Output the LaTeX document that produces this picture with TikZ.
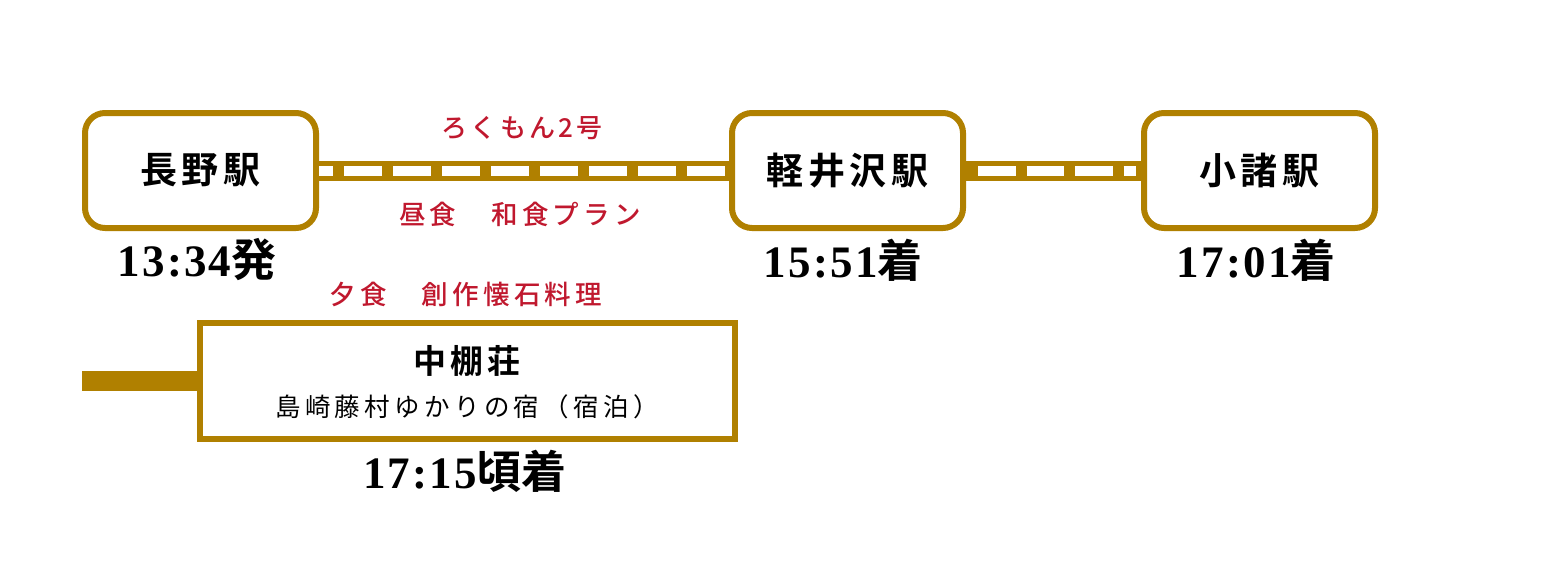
\documentclass[tikz,border=0pt]{standalone}
\usepackage{fontspec}
\setmainfont[LetterSpace=5]{Liberation Serif}
\newfontfamily\jpst[LetterSpace=12,BoldFont={Noto Sans CJK JP Bold}]{Noto Sans CJK JP}
\newfontfamily\jpred[LetterSpace=12]{Noto Sans CJK JP Medium}
\newfontfamily\jpredw[LetterSpace=16]{Noto Sans CJK JP Medium}
\newfontfamily\jpsub[LetterSpace=17]{Noto Sans CJK JP}
\newfontfamily\jptime[BoldFont={Noto Sans CJK JP Bold}]{Noto Sans CJK JP}
\definecolor{gold}{RGB}{176,128,0}
\definecolor{rouge}{RGB}{192,24,46}
\newcommand{\tm}[2]{{\bfseries #1}{\jptime\bfseries #2}}
\tikzset{
  stationbox/.style={draw=gold, line width=6pt, rounded corners=20pt, fill=white,
    minimum width=231pt, minimum height=115pt, inner sep=0pt,
    font=\jpst\bfseries\fontsize{37}{40}\selectfont, text=black},
  innbox/.style={draw=gold, line width=6pt, fill=white, minimum width=535pt,
    minimum height=116pt, inner sep=0pt},
  timelabel/.style={font=\fontsize{45}{50}\selectfont, text=black, inner sep=0pt},
  redlabel/.style={font=\jpred\fontsize{26}{30}\selectfont, text=rouge, inner sep=0pt},
  redwide/.style={font=\jpredw\fontsize{26.5}{30}\selectfont, text=rouge, inner sep=0pt},
  trackbase/.style={draw=gold, line width=20pt},
  trackdash/.style={draw=white, line width=10pt},
}
\begin{document}
\begin{tikzpicture}[x=1pt,y=-1pt]
\useasboundingbox[fill=white] (0,0) rectangle (1560,584);
% stations
\node[stationbox] (nagano) at (200.5,170.5) {長野駅};
\node[stationbox] (karu) at (847.5,170.5) {軽井沢駅};
\node[stationbox] (komoro) at (1259.5,170.5) {小諸駅};
% tracks
\draw[trackbase] (nagano.east) -- (karu.west);
\draw[trackdash, dash pattern=on 38pt off 11pt, dash phase=24pt] (nagano.east) -- (karu.west);
\draw[trackbase] (karu.east) -- (komoro.west);
\draw[trackdash, dash pattern=on 37.5pt off 11pt, dash phase=37.5pt, shorten <=1pt, shorten >=5pt] (karu.east) -- (komoro.west);
% times
\node[timelabel] (t1) at (197,260) {\tm{13:34}{発}};
\node[timelabel] (t2) at (843,260) {\tm{15:51}{着}};
\node[timelabel] (t3) at (1256,260) {\tm{17:01}{着}};
% red labels
\node[redlabel] (train) at (522,128) {ろくもん2号};
\node[redwide] (lunch) at (520,214) {昼食　和食プラン};
\node[redwide] (dinner) at (466,294) {夕食　創作懐石料理};
% inn
\coordinate (stub) at (82,381);
\node[innbox] (inn) at (467.5,381) {};
\draw[trackbase] (stub) -- (inn.west);
\node[font=\jpst\bfseries\fontsize{33}{36}\selectfont, inner sep=0pt] (innname) at (467,361) {中棚荘};
\node[font=\jpsub\fontsize{25.5}{28}\selectfont, inner sep=0pt] (innsub) at (467,407) {島崎藤村ゆかりの宿（宿泊）};
\node[timelabel] (t4) at (465,471) {\tm{17:15}{頃着}};
\end{tikzpicture}
\end{document}
